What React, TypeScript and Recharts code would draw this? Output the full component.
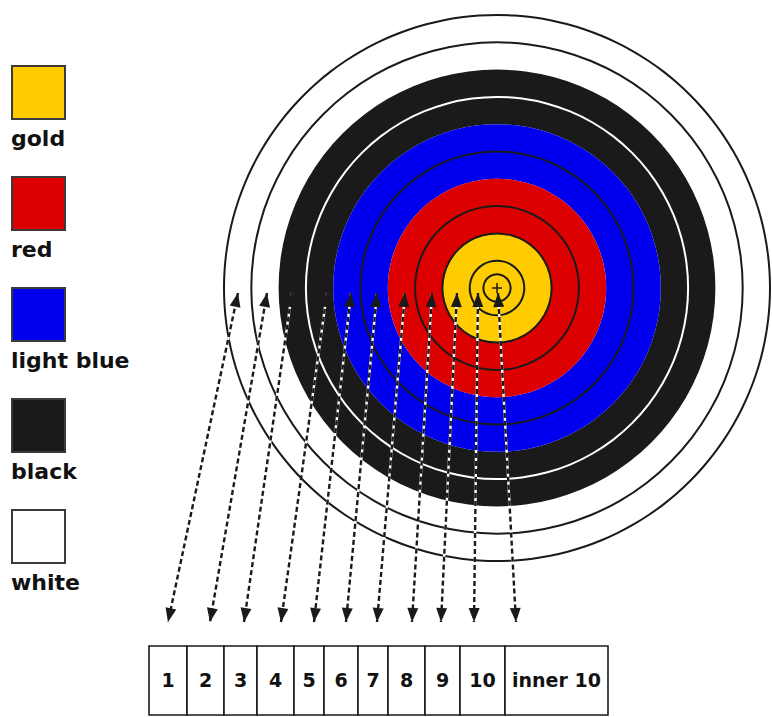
import {
  PieChart,
  Pie,
  Cell,
  ComposedChart,
  Line,
  Scatter,
  XAxis,
  YAxis,
  BarChart,
  Bar,
  LabelList,
} from "recharts";

const W = 772;
const H = 717;

// target rings, outermost first
const RING_SCORES = [1, 2, 3, 4, 5, 6, 7, 8, 9, 10];
const RING_ZONES = [
  "white",
  "white",
  "black",
  "black",
  "light blue",
  "light blue",
  "red",
  "red",
  "gold",
  "gold",
];
// scoring line drawn on each ring's outer edge ("" = no line)
const RING_LINES = ["black", "black", "", "white", "", "black", "", "black", "black", "black"];

const LEGEND_ZONES = ["gold", "red", "light blue", "black", "white"];

// arrows: x where they touch the target, x where they land above the boxes
const ARROW_TOP_X = [238, 267, 292, 327, 351, 377, 405, 432, 457, 478, 498];
const ARROW_BOTTOM_X = [168, 210, 244, 281, 314, 346, 377, 412, 441, 474, 516];
const ARROW_TOP_Y = 293;
const ARROW_BOTTOM_Y = 622;

// score boxes along the bottom
const BOX_LABELS = ["1", "2", "3", "4", "5", "6", "7", "8", "9", "10", "inner 10"];
const BOX_WIDTHS = [38, 37, 33, 37, 30, 34, 30, 37, 35, 45, 103];

const ZONE_FILL: Record<string, string> = {
  gold: "#ffcc00",
  red: "#dd0000",
  "light blue": "#0000ee",
  black: "#1a1a1a",
  white: "#ffffff",
};
const LINE_FILL: Record<string, string> = { black: "#1a1a1a", white: "#ffffff" };

const CX = 497;
const CY = 288;
const STEP = 27.3;
const INK = "#1a1a1a";
const FONT = "'DejaVu Sans', Arial, sans-serif";

const one = [{ name: "ring", value: 1 }];

const ArrowHead = (props: any) => {
  const { cx, cy, payload, index } = props;
  if (cx == null || cy == null) return null;
  const dx = payload.x - payload.ox;
  const dy = payload.y - payload.oy;
  const len = Math.hypot(dx, dy) || 1;
  const ux = dx / len;
  const uy = dy / len;
  const L = 14;
  const hw = 5.5;
  const bx = cx - ux * L;
  const by = cy - uy * L;
  const pts = `${cx},${cy} ${bx - uy * hw},${by + ux * hw} ${bx + uy * hw},${by - ux * hw}`;
  return <polygon key={`h-${index}`} points={pts} fill={INK} />;
};

const CenterCross = (props: any) => {
  const { cx, cy } = props;
  return (
    <g>
      <line x1={cx - 5} y1={cy} x2={cx + 5} y2={cy} stroke={INK} strokeWidth={1.5} />
      <line x1={cx} y1={cy - 5} x2={cx} y2={cy + 5} stroke={INK} strokeWidth={1.5} />
    </g>
  );
};

export default function App() {
  const arrows = ARROW_TOP_X.map((tx, i) => [
    { x: tx, y: ARROW_TOP_Y, ox: ARROW_BOTTOM_X[i], oy: ARROW_BOTTOM_Y },
    { x: ARROW_BOTTOM_X[i], y: ARROW_BOTTOM_Y, ox: tx, oy: ARROW_TOP_Y },
  ]);

  const boxRow: Record<string, any> = { name: "scores" };
  BOX_LABELS.forEach((_, i) => {
    boxRow["b" + i] = BOX_WIDTHS[i];
  });
  const boxTotal = BOX_WIDTHS.reduce((a, b) => a + b, 0);

  return (
    <div
      style={{
        position: "absolute",
        left: 0,
        top: 0,
        width: W,
        height: H,
        background: "#fff",
        overflow: "hidden",
        fontFamily: FONT,
      }}
    >
      {/* Target */}
      <div style={{ position: "absolute", left: 0, top: 0 }}>
        <PieChart width={W} height={H} margin={{ top: 0, right: 0, bottom: 0, left: 0 }}>
          {RING_SCORES.map((s, i) => (
            <Pie
              key={`ring-${s}`}
              data={one}
              dataKey="value"
              cx={CX}
              cy={CY}
              innerRadius={(10 - s) * STEP}
              outerRadius={(11 - s) * STEP}
              startAngle={90}
              endAngle={-270}
              stroke="none"
              isAnimationActive={false}
            >
              <Cell fill={ZONE_FILL[RING_ZONES[i]]} />
            </Pie>
          ))}
          {RING_SCORES.map((s, i) =>
            RING_LINES[i] ? (
              <Pie
                key={`line-${s}`}
                data={one}
                dataKey="value"
                cx={CX}
                cy={CY}
                innerRadius={(11 - s) * STEP - 1}
                outerRadius={(11 - s) * STEP + 1}
                startAngle={90}
                endAngle={-270}
                stroke="none"
                isAnimationActive={false}
              >
                <Cell fill={LINE_FILL[RING_LINES[i]]} />
              </Pie>
            ) : null
          )}
          {/* inner 10 */}
          <Pie
            data={one}
            dataKey="value"
            cx={CX}
            cy={CY}
            innerRadius={STEP / 2 - 1}
            outerRadius={STEP / 2 + 1}
            startAngle={90}
            endAngle={-270}
            stroke="none"
            isAnimationActive={false}
          >
            <Cell fill={INK} />
          </Pie>
        </PieChart>
      </div>

      {/* Arrows */}
      <div style={{ position: "absolute", left: 0, top: 0 }}>
        <ComposedChart width={W} height={H} margin={{ top: 0, right: 0, bottom: 0, left: 0 }}>
          <XAxis type="number" dataKey="x" domain={[0, W]} hide allowDataOverflow />
          <YAxis type="number" dataKey="y" domain={[0, H]} reversed hide allowDataOverflow />
          {arrows.map((d, i) => (
            <Line
              key={`u-${i}`}
              data={d}
              dataKey="y"
              type="linear"
              stroke="#ffffff"
              strokeWidth={2.4}
              dot={false}
              activeDot={false}
              isAnimationActive={false}
            />
          ))}
          {arrows.map((d, i) => (
            <Line
              key={`a-${i}`}
              data={d}
              dataKey="y"
              type="linear"
              stroke={INK}
              strokeWidth={2.4}
              strokeDasharray="5 3"
              dot={ArrowHead}
              activeDot={false}
              isAnimationActive={false}
            />
          ))}
          <Scatter data={[{ x: CX, y: CY }]} shape={CenterCross} isAnimationActive={false} />
        </ComposedChart>
      </div>

      {/* Score boxes */}
      <div style={{ position: "absolute", left: 147, top: 644 }}>
        <BarChart
          width={463}
          height={73}
          layout="vertical"
          data={[boxRow]}
          margin={{ top: 2, right: 2, bottom: 2, left: 2 }}
          barCategoryGap={0}
        >
          <XAxis type="number" domain={[0, boxTotal]} hide />
          <YAxis type="category" dataKey="name" hide />
          {BOX_LABELS.map((label, i) => (
            <Bar
              key={label}
              dataKey={"b" + i}
              stackId="row"
              fill="#ffffff"
              stroke={INK}
              strokeWidth={1.6}
              isAnimationActive={false}
            >
              <LabelList
                dataKey={"b" + i}
                position="center"
                formatter={() => label}
                fill="#111"
                fontSize={19}
                fontWeight="bold"
                fontFamily={FONT}
              />
            </Bar>
          ))}
        </BarChart>
      </div>

      {/* Legend */}
      <div
        style={{
          position: "absolute",
          left: 11,
          top: 65,
          display: "flex",
          flexDirection: "column",
          gap: 21,
        }}
      >
        {LEGEND_ZONES.map((z) => (
          <div key={z}>
            <div
              style={{
                width: 55,
                height: 55,
                boxSizing: "border-box",
                background: ZONE_FILL[z],
                border: "2px solid #3a3a3a",
              }}
            />
            <div
              style={{
                marginTop: 3,
                height: 32,
                lineHeight: "32px",
                fontSize: 22,
                fontWeight: 900,
                color: "#111",
                whiteSpace: "nowrap",
              }}
            >
              {z}
            </div>
          </div>
        ))}
      </div>
    </div>
  );
}
